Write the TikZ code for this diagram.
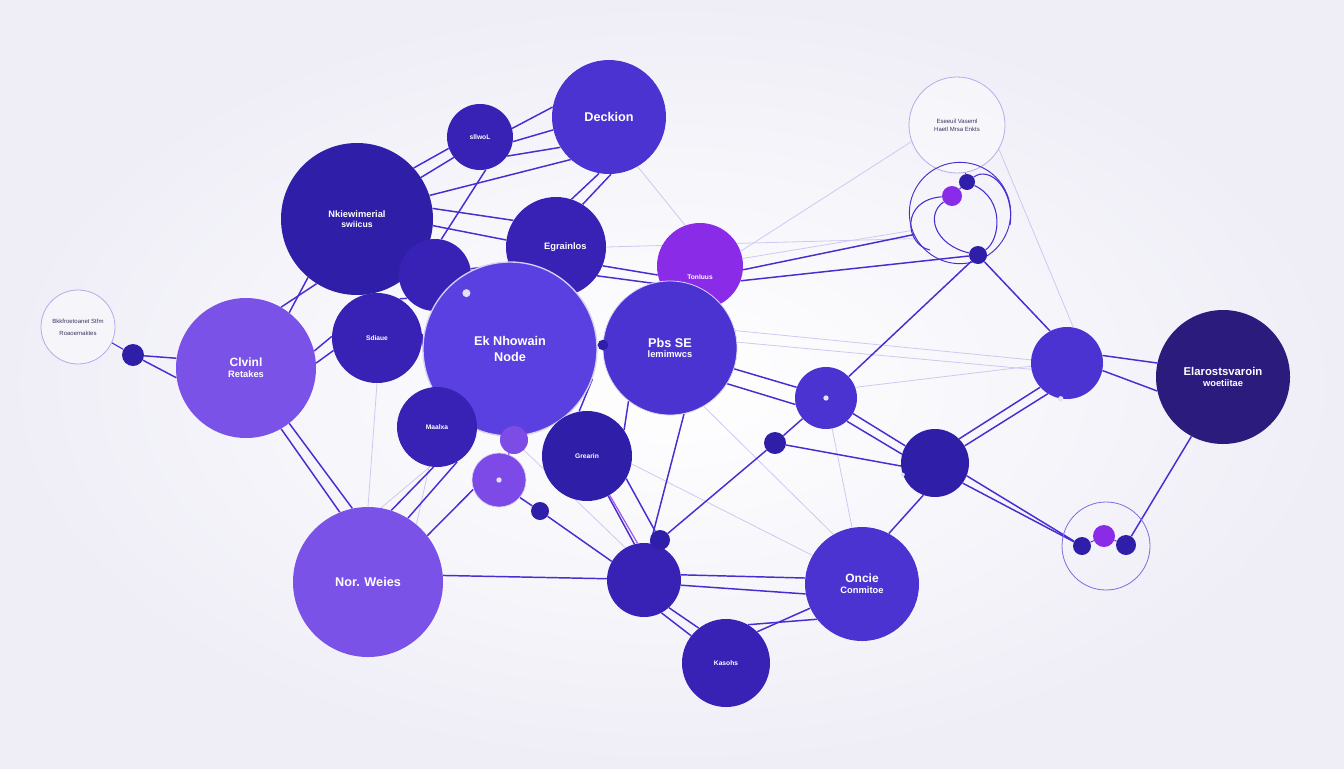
\documentclass[tikz,border=0pt]{standalone}
\usepackage{fontspec}
\setmainfont{Liberation Sans}
\setsansfont{Liberation Sans}
\usetikzlibrary{backgrounds}
\definecolor{bgout}{HTML}{EFEEF7}
\definecolor{cdeep}{HTML}{2F1FA8}
\definecolor{cnavy}{HTML}{2B1B7C}
\definecolor{cdark}{HTML}{3722B5}
\definecolor{cmid}{HTML}{4B33D2}
\definecolor{cmain}{HTML}{5A40E0}
\definecolor{clight}{HTML}{7B52E7}
\definecolor{cmag}{HTML}{8A2BE8}
\definecolor{cline}{HTML}{4A2CD0}
\definecolor{cfaint}{HTML}{CFC8F2}
\definecolor{cring}{HTML}{B9A8EC}
\definecolor{ctxt}{HTML}{3A3560}
\tikzset{
  c/.style={circle, inner sep=0pt, text=white, align=center, font=\sffamily\bfseries\fontsize{7}{8.5}\selectfont},
  dotn/.style={circle, inner sep=0pt, fill=cdeep},
  ring/.style={circle, inner sep=0pt, draw=cring, line width=0.6pt, fill=white, fill opacity=0.4, text opacity=1, text=ctxt, align=center, font=\sffamily\fontsize{4.5}{6}\selectfont},
  ln/.style={draw=cline, line width=1.1pt},
  fl/.style={draw=cfaint, line width=0.6pt},
  big/.style={font=\sffamily\bfseries\fontsize{9.5}{11.5}\selectfont},
  sm/.style={font=\sffamily\bfseries\fontsize{5}{6.5}\selectfont}
}
\begin{document}
\begin{tikzpicture}[x=0.75pt,y=-0.75pt]
\begin{scope}[on background layer]
\shade[inner color=white, outer color=bgout] (0,0) rectangle (1344,768);
\end{scope}
\useasboundingbox (0,0) rectangle (1344,768);

% nodes
\node[c, fill=cmid, minimum size=85.5pt, big] (dec) at (609,117) {Deckion};
\node[c, fill=cdark, minimum size=49.5pt, sm] (sll) at (480,137) {sllwoL};
\node[c, fill=cdeep, minimum size=114pt] (nki) at (357,219) {Nkiewimerial\\[-1pt]{\fontsize{6.5}{8}\selectfont swiicus}};
\node[c, fill=cdark, minimum size=75pt] (egr) at (556,247) {\hspace*{14pt}Egrainlos};
\node[c, fill=cdark, minimum size=54pt] (s5) at (435,275) {};
\node[c, fill=cmain, minimum size=130.5pt, draw=white!75!cmain, line width=1pt, big] (main) at (510,349) {Ek Nhowain\\Node};
\node[c, fill=cmag, minimum size=64.5pt, sm] (ton) at (700,266) {\\[14pt]Tonluus};
\node[c, fill=cmid, minimum size=100.5pt, draw=white!80!cmid, line width=0.6pt] (pbs) at (670,348) {{\fontsize{9.5}{11.5}\selectfont Pbs SE}\\[-1pt]lemimwcs};
\node[c, fill=cdark, minimum size=67.5pt, sm] (sdi) at (377,338) {Sdiaue};
\node[c, fill=clight, minimum size=105pt] (clv) at (246,368) {{\fontsize{9}{11}\selectfont Clvinl}\\Retakes};
\node[ring, minimum size=55.5pt] (lab) at (78,327) {Bkkfroetoanet Stfm\\[3pt]Roaoemaktes};
\node[dotn, minimum size=16.5pt] (d1) at (133,355) {};
\node[c, fill=cdark, minimum size=60pt, sm] (maa) at (437,427) {Maalxa};
\node[c, fill=clight!85!cmag, minimum size=21pt] (lav) at (514,440) {};
\node[c, fill=clight!80!cmag, minimum size=40.5pt, draw=white!70!clight, line width=0.5pt] (pp) at (499,480) {};
\node[c, fill=cdeep, minimum size=67.5pt, sm] (gre) at (587,456) {Grearin};
\node[dotn, minimum size=13.5pt] (d2) at (540,511) {};
\node[c, fill=clight, minimum size=112.5pt, big] (nor) at (368,582) {Nor. Weies};
\node[c, fill=cdark, minimum size=55.5pt] (bc) at (644,580) {};
\node[dotn, minimum size=15pt] (d3) at (660,540) {};
\node[c, fill=cdark, minimum size=66pt, sm] (kas) at (726,663) {Kasohs};
\node[c, fill=cmid, minimum size=85.5pt] (onc) at (862,584) {{\fontsize{9}{11}\selectfont Oncie}\\Conmitoe};
\node[c, fill=cmid, minimum size=46.5pt] (m1) at (826,398) {};
\node[dotn, minimum size=16.5pt] (d4) at (775,443) {};
\node[c, fill=cdeep, minimum size=51pt] (m2) at (935,463) {};
\node[c, fill=cmid, minimum size=54pt] (m3) at (1067,363) {};
\node[c, fill=cnavy, minimum size=100.5pt] (ela) at (1223,377) {{\fontsize{8.5}{10.5}\selectfont Elarostsvaroin}\\woetiitae};
\node[ring, minimum width=72pt, minimum height=64pt] (tr1) at (957,125) {Eseeuil Vaseml\\Haetl Mrsa Enkts};
\node[circle, draw=cline, line width=0.7pt, minimum size=76pt, inner sep=0pt] (tr2) at (960,213) {};
\node[dotn, minimum size=12pt] (tra) at (967,182) {};
\node[circle, inner sep=0pt, fill=cmag, minimum size=15pt] (trb) at (952,196) {};
\node[dotn, minimum size=13.5pt] (trc) at (978,255) {};
\node[circle, draw=cline!70!white, line width=0.6pt, minimum size=66pt, inner sep=0pt] (br) at (1106,546) {};
\node[dotn, minimum size=13.5pt] (bra) at (1082,546) {};
\node[circle, inner sep=0pt, fill=cmag, minimum size=16.5pt] (brb) at (1104,536) {};
\node[dotn, minimum size=15pt] (brc) at (1126,545) {};
\coordinate (mp) at (603,345);
\node[dotn, minimum size=8pt] (mpd) at (mp) {};

% edges
\begin{scope}[on background layer]
% faint lines
\draw[fl] (ton.20) -- (tr1.200);
\draw[fl] (ton.10) -- (tr2.200);
\draw[fl] (pbs.15) -- (m3.175);
\draw[fl] (pbs.5) -- (m3.190);
\draw[fl] (m1.20) -- (m3.185);
\draw[fl] (egr.0) -- (tr2.210);
\draw[fl] (nki.-20) -- (gre.120);
\draw[fl] (maa.-100) -- (nor.80);
\draw[fl] (main.-90) -- (bc.120);
\draw[fl] (pbs.-60) -- (onc.120);
\draw[fl] (gre.-10) -- (onc.150);
\draw[fl] (sdi.-90) -- (nor.90);
\draw[fl] (tr1.-30) -- (m3.80);
\draw[fl] (m1) -- (onc.100);
\draw[fl] (dec.-60) -- (ton.110);
\draw[fl] (main.-140) -- (nor.50);
% main lines
\draw[ln] (d1) -- (clv.172);
\draw[ln] (d1) -- (clv.188);
\draw[ln, line width=0.8pt] (d1) -- (lab.-25);
\draw[ln] (clv.14) -- (sdi.178);
\draw[ln] (clv.4) -- (sdi.196);
\draw[ln] (clv.60) -- (nki.238);
\draw[ln] (clv.52) -- (nki.230);
\draw[ln] (clv.-60) -- (nor.112);
\draw[ln] (clv.-52) -- (nor.102);
\draw[ln] (nki.42) -- (sll.200);
\draw[ln] (nki.33) -- (sll.218);
\draw[ln] (sll.15) -- (dec.170);
\draw[ln] (sll.-8) -- (dec.193);
\draw[ln] (sll.-35) -- (dec.212);
\draw[ln] (nki.18) -- (dec.228);
\draw[ln] (nki.-5) -- (egr.172);
\draw[ln] (nki.8) -- (egr.148);
\draw[ln] (dec.-100) -- (egr.72);
\draw[ln] (dec.-88) -- (egr.58);
\draw[ln] (sll.-80) -- (s5.80);
\draw[ln] (sdi.5) -- (main.178);
\draw[ln] (sdi.60) -- (s5.220);
\draw[ln] (s5.10) -- (egr.200);
\draw[ln] (main) -- (mp) -- (pbs);
\draw[ln] (egr.-22) -- (ton.192);
\draw[ln] (egr.-35) -- (ton.205);
\draw[ln] (pbs.55) -- (ton.-100);
\draw[ln] (ton.-20) -- (trc);
\draw[ln] (ton.-5) -- (tr2.205);
\draw[ln] (pbs.-18) -- (m1.160);
\draw[ln] (pbs.-32) -- (m1.192);
\draw[ln] (m1) -- (trc);
\draw[ln] (m1.-30) -- (m2.150);
\draw[ln] (m1.-48) -- (m2.165);
\draw[ln] (d4) -- (m2.185);
\draw[ln] (d4) -- (m1);
\draw[ln] (d4) -- (d3);
\draw[ln] (m2.45) -- (m3.222);
\draw[ln] (m2.30) -- (m3.238);
\draw[ln] (m2.-110) -- (onc.62);
\draw[ln] (m2.-22) -- (bra);
\draw[ln] (m2.-36) -- (bra);
\draw[ln] (m3.12) -- (ela.168);
\draw[ln] (m3.-12) -- (ela.192);
\draw[ln] (ela.-118) -- (brc);
\draw[ln] (trc) -- (m3.118);
\draw[ln, line width=0.8pt] (tr1.-80) -- (tra);
\draw[ln] (bc.8) -- (onc.174);
\draw[ln] (bc.-8) -- (onc.190);
\draw[ln] (nor.5) -- (bc.178);
\draw[ln] (bc.-62) -- (kas.142);
\draw[ln] (bc.-48) -- (kas.128);
\draw[ln] (onc.205) -- (kas.45);
\draw[ln] (onc.218) -- (kas.60);
\draw[ln] (gre.-62) -- (bc.105);
\draw[ln] (d2) -- (bc.150);
\draw[ln] (d3) -- (bc);
\draw[ln] (gre.35) -- (pbs.232);
\draw[ln] (main.-20) -- (gre.100);
\draw[ln] (maa.-60) -- (nor.58);
\draw[ln] (maa.-95) -- (nor.72);
\draw[ln] (pp.200) -- (nor.38);
\draw[ln] (pp.-40) -- (d2);
\draw[ln] (lav) -- (pp);
\draw[ln] (main.-95) -- (lav);
\draw[ln] (gre.-30) -- (d3);
\draw[ln] (pbs.-78) -- (bc.80);
\end{scope}
% lines over nodes
\draw[ln, draw=cmag!80!white, line width=0.9pt] (gre) -- (bc.100);
\draw[ln, draw=cmag!70!white, line width=0.8pt] (pp) -- (lav);
\draw[ln, line width=0.8pt] (tra) .. controls (1005,200) and (1000,240) .. (trc);
\draw[ln, line width=0.8pt] (trb) .. controls (925,215) and (935,245) .. (trc);
\draw[ln, line width=0.8pt] (trb) .. controls (900,200) and (905,245) .. (930,250);
\draw[ln, line width=0.8pt] (tra) .. controls (990,165) and (1015,190) .. (1010,225);
\draw[ln, line width=0.8pt] (tra) -- (trb);
\draw[ln, line width=0.7pt] (bra) -- (brb) -- (brc);
\fill[white!85!cmid] (m1) circle (2pt);
\fill[white!85!cmid] (m2.200) circle (1.5pt);
\fill[white!85!cmid] (m3.-100) circle (2pt);
\fill[white!85!cmid] (pp) circle (2pt);
\fill[white!85!cmid] (s5.-30) circle (3pt);
\end{tikzpicture}
\end{document}
